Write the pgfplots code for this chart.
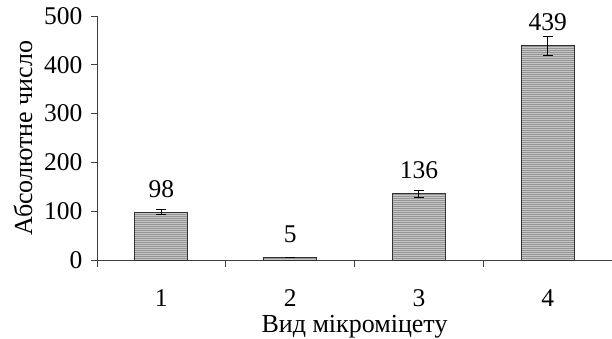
\documentclass[border=0pt]{standalone}
\usepackage{fontspec}
\setmainfont{Liberation Serif}
\usepackage{pgfplots}
\pgfplotsset{compat=1.18}
\usetikzlibrary{patterns}
\pgfdeclarepatternformonly{finelines}{\pgfqpoint{-0.5pt}{-0.5pt}}{\pgfqpoint{2.5pt}{2.5pt}}{\pgfqpoint{2pt}{2pt}}{%
  \pgfsetlinewidth{0.6pt}\pgfpathmoveto{\pgfqpoint{-0.1pt}{0pt}}\pgfpathlineto{\pgfqpoint{2.1pt}{0pt}}\pgfusepath{stroke}}
\begin{document}
\begin{tikzpicture}[font=\fontsize{26}{30}\selectfont]
\begin{axis}[
  scale only axis, width=515pt, height=244pt,
  xmin=0.5, xmax=4.5, ymin=0, ymax=500,
  axis x line*=bottom, axis y line*=left,
  axis line style={black!75, line width=0.8pt},
  ytick={0,100,200,300,400,500},
  xtick={1,2,3,4},
  minor xtick={0.5,1.5,2.5,3.5,4.5},
  tick align=outside,
  major tick length=6pt, minor tick length=7pt,
  major x tick style={draw=none},
  every tick/.append style={black!75, line width=0.8pt},
  /pgf/number format/assume math mode=true,
  tick label style={font=\fontsize{25.5}{30}\selectfont},
  xticklabel style={yshift=-20pt},
  yticklabel style={xshift=-5pt},
  every axis y label/.style={at={(axis description cs:0,0.5)}, xshift=-74pt, rotate=90, anchor=center},
  every axis x label/.style={at={(axis description cs:0.5,0)}, anchor=base, yshift=-72pt},
  ylabel={Абсолютне число},
  xlabel={Вид мікроміцету},
  clip=false,
]
\addplot[ybar, bar width=53pt, draw=black!80, line width=0.8pt, fill=black!22,
  postaction={pattern=finelines, pattern color=black!42},
  error bars/.cd, y dir=both, y explicit,
  error bar style={black, line width=0.8pt},
  error mark options={rotate=90, mark size=5pt, line width=0.8pt}]
  coordinates {(1,98) +- (0,5) (2,5) +- (0,0) (3,136) +- (0,7) (4,439) +- (0,20)};
\addplot[only marks, mark=none, nodes near coords,
  every node near coord/.append style={anchor=base, yshift=15pt, font=\fontsize{25.5}{30}\selectfont}]
  coordinates {(1,98) (2,5) (3,136) (4,439)};
\coordinate (O) at (rel axis cs:0,0);
\end{axis}
\pgfresetboundingbox
\path[use as bounding box] ([xshift=-97pt,yshift=-78pt]O) rectangle ++(612pt,338pt);
\end{tikzpicture}
\end{document}
